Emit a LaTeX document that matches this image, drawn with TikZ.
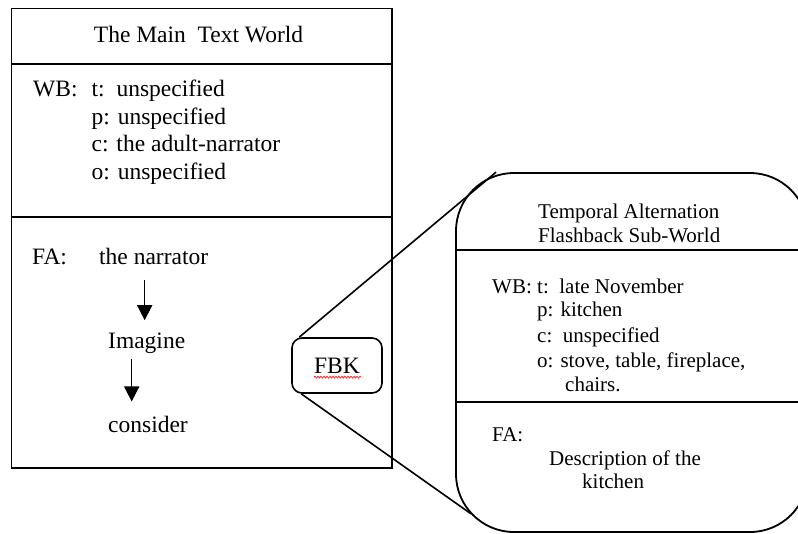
\documentclass[tikz,border=0pt]{standalone}
\usepackage{fontspec}
\setmainfont{Liberation Serif}
\usetikzlibrary{arrows.meta,calc,decorations.pathmorphing}
\begin{document}
\begin{tikzpicture}[x=1pt,y=-1pt,
 frame/.style={draw,line width=1.8pt,inner sep=0pt},
 divline/.style={line width=1.8pt},
 big/.style={font=\fontsize{23.5}{27.5}\selectfont,inner sep=0pt},
 small/.style={font=\fontsize{21}{24.5}\selectfont,inner sep=0pt},
 arr/.style={line width=1.6pt,-{Triangle[width=15pt,length=15pt]}},
 conn/.style={line width=1.6pt}]
\useasboundingbox (0,0) rectangle (798,533);
\clip (0,0) rectangle (798,533);
% main text world
\node[frame,minimum width=380.5pt,minimum height=459.5pt] (main) at (201.75,238.25) {};
\coordinate (d1) at (0,64);
\coordinate (d2) at (0,217);
\draw[divline] (main.west |- d1) -- (main.east |- d1);
\draw[divline] (main.west |- d2) -- (main.east |- d2);
\node[big,anchor=base] (title) at (198.5,42) {The Main~ Text World};
\node[big,anchor=base west] (wb) at (33,96.7) {WB:};
\node[big,anchor=base west] (wbt) at (91.5,96.7) {t:\ \ unspecified};
\node[big,anchor=base west] (wbp) at (91.5,124.2) {p: unspecified};
\node[big,anchor=base west] (wbc) at (91.5,151.7) {c: the adult-narrator};
\node[big,anchor=base west] (wbo) at (91.5,179) {o: unspecified};
\node[big,anchor=base west] (fa) at (32,264) {FA:};
\node[big,anchor=base west] (narr) at (99,264) {the narrator};
\node[big,anchor=base west] (imag) at (108,348) {Imagine};
\node[big,anchor=base west] (cons) at (108,432) {consider};
\draw[arr,shorten <=16pt,shorten >=12pt] ([xshift=-9pt]narr.south) -- ([xshift=-9pt]narr.south |- imag.north);
\draw[arr,shorten <=6pt,shorten >=14pt] ([xshift=-15pt]imag.south) -- ([xshift=-15pt]imag.south |- cons.north);
% FBK
\node[draw,line width=1.6pt,rounded corners=10pt,minimum width=90pt,minimum height=55pt,big] (fbk) at (337,365.5) {FBK};
\draw[red,line width=0.6pt,decorate,decoration={snake,amplitude=1pt,segment length=3pt}] ($(fbk.base)+(-23,4)$) -- ($(fbk.base)+(24,4)$);
% sub-world
\node[draw,line width=1.8pt,rounded corners=58pt,minimum width=352pt,minimum height=359pt] (sub) at (632,352.5) {};
\coordinate (d3) at (0,250);
\coordinate (d4) at (0,402);
\draw[divline] (sub.west |- d3) -- (sub.east |- d3);
\draw[divline] (sub.west |- d4) -- (sub.east |- d4);
\draw[conn] ($(fbk.north west)+(8,0)$) -- ($(sub.north west)+(41,0)$);
\draw[conn] ($(fbk.south west)+(10,0)$) -- ($(sub.south west)+(16,-19)$);
\node[small,anchor=base west] (t1) at (538,218) {Temporal Alternation};
\node[small,anchor=base west] (t2) at (538,242) {Flashback Sub-World};
\node[small,anchor=base west] (rwb) at (492,293) {WB:};
\node[small,anchor=base west] (rt) at (537,293) {t:\ \ late November};
\node[small,anchor=base west] (rp) at (537,316.5) {p: kitchen};
\node[small,anchor=base west] (rc) at (537,342) {c:\ \ unspecified};
\node[small,anchor=base west] (ro) at (537,367) {o: stove, table, fireplace,};
\node[small,anchor=base west] (rch) at (565,391) {chairs.};
\node[small,anchor=base west] (rfa) at (492,441) {FA:};
\node[small,anchor=base west] (rd) at (549,465) {Description of the};
\node[small,anchor=base west] (rk) at (582,488) {kitchen};
\end{tikzpicture}
\end{document}
